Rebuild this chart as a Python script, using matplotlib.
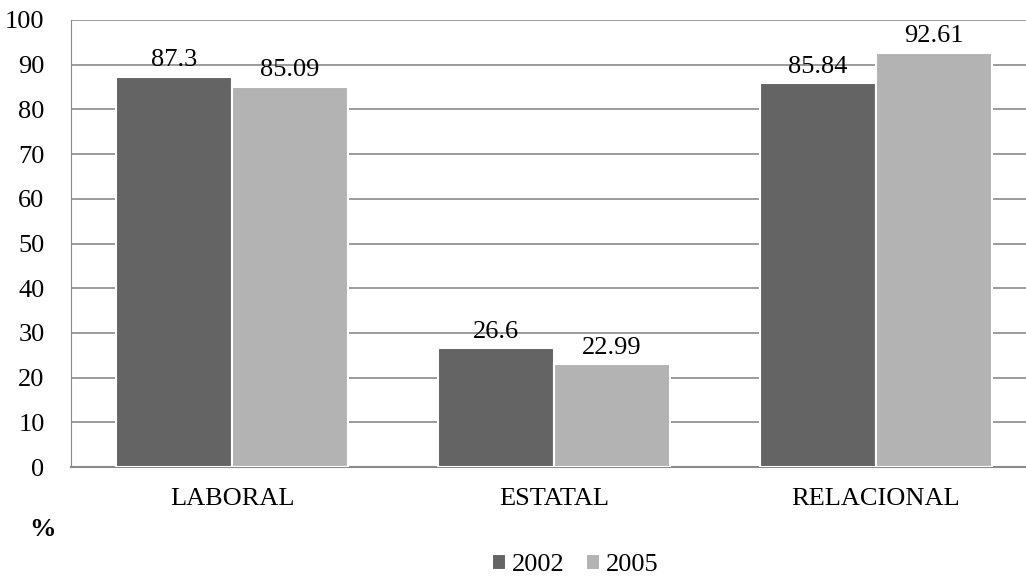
"""Grouped bar chart: share by dimension, 2002 vs 2005."""
import matplotlib
matplotlib.use("Agg")
import matplotlib.pyplot as plt
import numpy as np

plt.rcParams["font.family"] = ["Liberation Serif", "DejaVu Serif"]

categories = ["LABORAL", "ESTATAL", "RELACIONAL"]
years = ["2002", "2005"]
values_2002 = [87.3, 26.6, 85.84]
values_2005 = [85.09, 22.99, 92.61]

COLORS = ["#646464", "#b3b3b3"]
GRID = "#8a8a8a"
FS = 19

fig = plt.figure(figsize=(10.26, 5.77), dpi=100)
ax = fig.add_axes([71 / 1026, 110 / 577, 955 / 1026, 447 / 577])

x = np.arange(len(categories))
w = 0.36
for i, (vals, color, label) in enumerate(zip([values_2002, values_2005], COLORS, years)):
    bars = ax.bar(x + (i - 0.5) * w, vals, w, color=color, edgecolor="white",
                  linewidth=1.5, label=label, zorder=3)
    for b, v in zip(bars, vals):
        ax.annotate(f"{v:g}", (b.get_x() + b.get_width() / 2, v),
                    xytext=(0, 4), textcoords="offset points",
                    ha="center", va="bottom", fontsize=FS, zorder=4)

ax.set_xlim(-0.5, -0.5 + 955 / 322)
ax.set_ylim(0, 100)
ax.set_yticks(range(0, 101, 10))
ax.yaxis.grid(True, color=GRID, linewidth=1.2)
ax.set_axisbelow(True)
ax.set_xticks(x)
ax.set_xticklabels(categories)
ax.tick_params(axis="both", length=0, labelsize=FS)
ax.tick_params(axis="y", pad=19)
ax.tick_params(axis="x", pad=15)
for side in ["top", "right"]:
    ax.spines[side].set_visible(False)
ax.spines["left"].set_color(GRID)
ax.spines["bottom"].set_color(GRID)
ax.spines["bottom"].set_linewidth(1.5)

fig.text(42 / 1026, 1 - 530 / 577, "%", fontsize=FS, fontweight="bold",
         ha="center", va="center")

fig.legend(loc="center", bbox_to_anchor=(575 / 1026, 1 - 565 / 577), ncol=2,
           frameon=False, fontsize=FS, handlelength=0.55, handleheight=0.55,
           handletextpad=0.2, columnspacing=0.8)

fig.savefig("out.png", dpi=100)
